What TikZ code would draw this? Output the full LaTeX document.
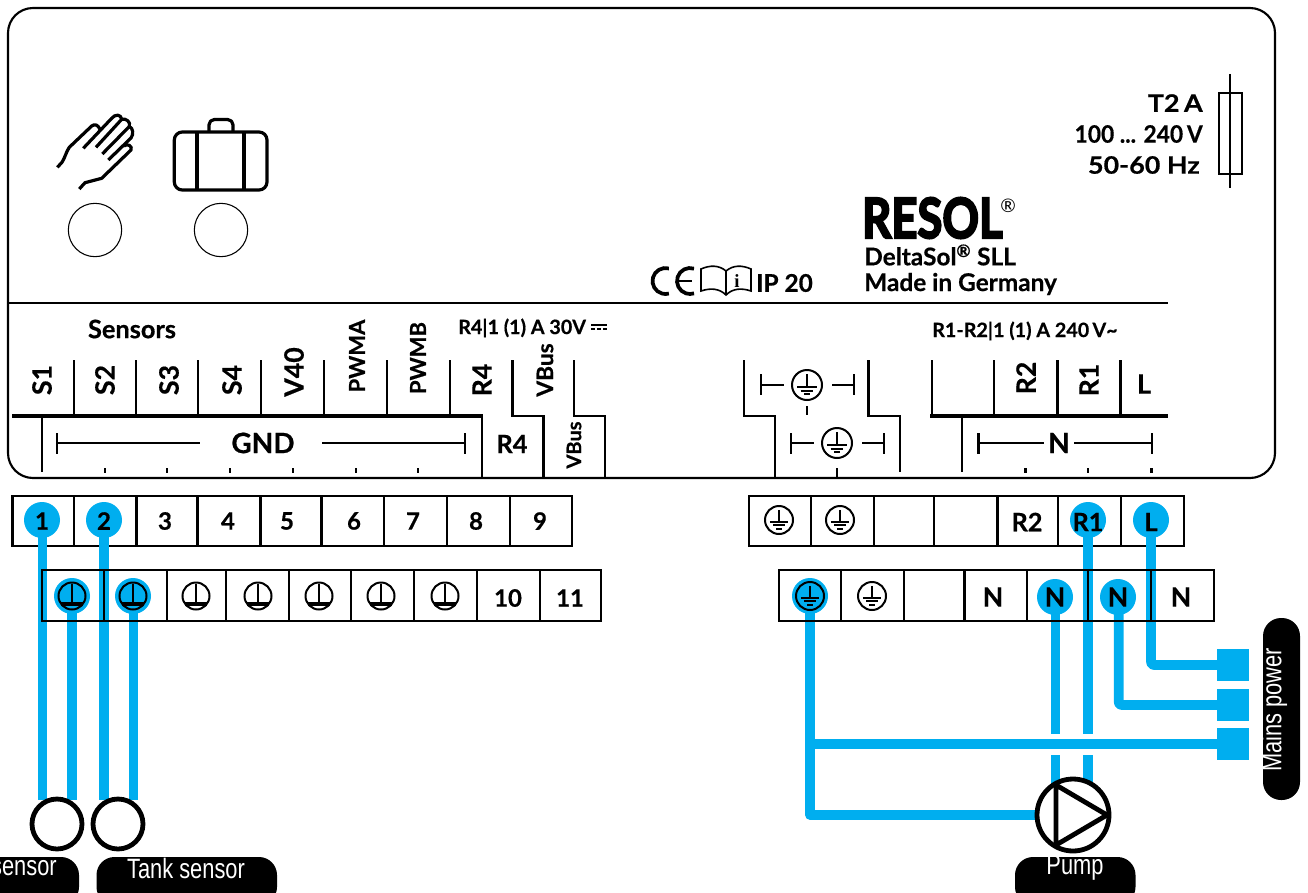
\documentclass[tikz,border=0pt]{standalone}
\usepackage{fontspec}
\setmainfont{Lato}[BoldFont={Lato Bold},BoldFeatures={FakeBold=0.5}]
\newfontfamily\cond{Liberation Sans}[FakeStretch=0.78]
\newfontfamily\heavy{Lato Bold}[FakeBold=4]
\newfontfamily\bookserif{Liberation Serif Bold}
\usetikzlibrary{calc}
\definecolor{wire}{HTML}{00AEEF}
\tikzset{
  px/.style={x=0.75pt,y=-0.75pt},
  ln/.style={line width=1.9pt,black},
  thk/.style={line width=2.9pt,black},
  wirel/.style={line width=7.2pt,wire,line join=round},
  lab/.style={font=\bfseries\fontsize{20}{20}\selectfont,inner sep=0pt},
  vlab/.style={lab,rotate=90},
  vlabs/.style={font=\bfseries\fontsize{16.5}{16.5}\selectfont,inner sep=0pt,rotate=90},
  small/.style={font=\bfseries\fontsize{14.8}{14.8}\selectfont,inner sep=0pt},
  term/.style={font=\bfseries\fontsize{18}{18}\selectfont,inner sep=0pt},
  blob/.style={circle,fill=wire,minimum size=27pt,inner sep=0pt},
  pill/.style={fill=black,rounded corners=13.5pt},
  pilltxt/.style={font=\cond\fontsize{21}{21}\selectfont,text=white,inner sep=0pt},
  sens/.style={circle,draw=black,line width=3.6pt,fill=white,minimum size=37.5pt,inner sep=0pt},
  knob/.style={circle,draw=black,line width=0.8pt,minimum size=40pt,inner sep=0pt},
  sq/.style={fill=wire,minimum size=24pt,inner sep=0pt},
  fusetxt/.style={font=\bfseries\fontsize{18}{18}\selectfont,anchor=east,inner sep=0pt},
  infotxt/.style={font=\bfseries\fontsize{18.3}{18.3}\selectfont,anchor=west,inner sep=0pt},
  icon/.style={line width=2.4pt,line join=round}
}
\newcommand{\gndsym}[2]{%
  \draw[line width=1.5pt] (#1,#2) circle[radius=13.5];
  \draw[line width=1.5pt] (#1,#2-12) -- (#1,#2+8);
  \draw[line width=2.6pt] (#1-11,#2+8) -- (#1+11,#2+8);}
\newcommand{\pesym}[3][14]{%
  \draw[line width=1.5pt] (#2,#3) circle[radius=#1];
  \draw[line width=1.2pt] (#2,#3-#1*0.72) -- (#2,#3+#1*0.15);
  \draw[line width=1.3pt] (#2-#1*0.66,#3+#1*0.15) -- (#2+#1*0.66,#3+#1*0.15);
  \draw[line width=1.3pt] (#2-#1*0.42,#3+#1*0.38) -- (#2+#1*0.42,#3+#1*0.38);
  \draw[line width=1.3pt] (#2-#1*0.2,#3+#1*0.62) -- (#2+#1*0.2,#3+#1*0.62);}
\newcommand{\vrow}[3]{\foreach \xx in {#3}{\draw[ln] (\xx,#1) -- (\xx,#2);}}
\begin{document}
\begin{tikzpicture}[px]
\useasboundingbox (0,0) rectangle (1308,892);
\fill[white] (0,0) rectangle (1308,892);

% housing
\draw[line width=1.6pt] (8,33) arc[start angle=180,end angle=270,radius=25] -- (1250,8) arc[start angle=-90,end angle=0,radius=25] -- (1275,453) arc[start angle=0,end angle=90,radius=25] -- (33,478) arc[start angle=90,end angle=180,radius=25] -- cycle;
\draw[line width=1.8pt] (8,303) -- (1168,303);

% hand icon
\draw[icon] (57.3,167.3) -- (61.7,162.7) .. controls (65,158) and (66,152) .. (69.3,147.3) -- (91.7,126) .. controls (95,123.5) and (98,125) .. (100,129.3);
\draw[icon] (83.3,148.3) -- (111.7,118.3) .. controls (115,114) and (121,114) .. (121.7,119.3) -- (96,147.3);
\draw[icon] (121.7,119.3) .. controls (126,118) and (131,122) .. (129.3,126.5) -- (102.3,154);
\draw[icon] (129.3,126.5) .. controls (133,128) and (134,134) .. (131,138) -- (108.3,160);
\draw[icon] (124,146) .. controls (127,143) and (133,146) .. (131,150) -- (101.7,178.3) -- (85,182.7) -- (79.3,189);
% suitcase
\draw[icon,rounded corners=6pt] (174.3,132) rectangle (267,190);
\draw[icon,rounded corners=4pt] (209,132) -- (209,119.5) -- (233,119.5) -- (233,132);
\draw[icon] (197,132) -- (197,190) (244,132) -- (244,190);
\node[knob] (k1) at (95,230) {};
\node[knob] (k2) at (221,230) {};

% fuse
\draw[line width=1.8pt] (1230,74) -- (1230,188);
\draw[line width=1.8pt] (1219,93) rectangle (1242,174);
\node[fusetxt,xscale=1.12] (t1) at (1203,103) {T2\,A};
\node[fusetxt,xscale=0.95] (t2) at (1203,134) {100 ... 240\,V};
\node[fusetxt,xscale=1.12] (t3) at (1200,165) {50-60 Hz};

% brand
\node[font=\heavy\fontsize{41.5}{41.5}\selectfont,anchor=base west,inner sep=0pt,text depth=0pt,xscale=0.82] (brand) at (862,238) {RESOL};
\node[font=\fontsize{14}{14}\selectfont,inner sep=0pt] (reg) at (1008,206) {®};
\node[infotxt] (ds) at (864,255) {DeltaSol\textsuperscript{®} SLL};
\node[infotxt] (mg) at (864,284) {Made in Germany};
\node[infotxt] (ip) at (756,283) {IP 20};
% CE mark
\draw[line width=2.8pt] (665.5,281) ++(-75:13) arc[start angle=-75,end angle=-285,radius=13];
\draw[line width=2.8pt] (690,281) ++(-72:13) arc[start angle=-72,end angle=-288,radius=13];
\draw[line width=2.2pt] (678,281) -- (692,281);
% book
\draw[line width=1.2pt] (726,271) .. controls (719,265) and (710,265) .. (701,269) -- (701,291) .. controls (710,288) and (719,288) .. (726,295) .. controls (733,288) and (742,288) .. (751,291) -- (751,269) .. controls (742,265) and (733,265) .. (726,271);
\draw[line width=1.8pt] (726,271) -- (726,295);
\node[font=\bookserif\fontsize{14}{14}\selectfont,inner sep=0pt] (bi) at (737,281) {i};

% left connector legend
\node[font=\bfseries\fontsize{19}{19}\selectfont,inner sep=0pt] (sensors) at (132,329) {Sensors};
\node[small,anchor=west] (r4r) at (458,328) {R4|1 (1) A 30V};
\draw[line width=1.2pt] (591,325) -- (607,325);
\draw[line width=1.2pt] (591,329) -- (595,329) (597,329) -- (601,329) (603,329) -- (607,329);
\node[vlab] (s1) at (42,380) {S1};
\node[vlab] (s2) at (105,380) {S2};
\node[vlab] (s3) at (169,380) {S3};
\node[vlab] (s4) at (232,380) {S4};
\node[vlab] (v40) at (294,372) {V40};
\node[vlabs] (pwma) at (357,356) {PWMA};
\node[vlabs] (pwmb) at (418,358) {PWMB};
\node[vlab] (r4a) at (482,380) {R4};
\node[vlabs,font=\bfseries\fontsize{17}{17}\selectfont] (vb1) at (545,370) {VBus};
\foreach \x in {74,136,198,261,324,387,450}{\draw[ln] (\x,360) -- (\x,416);}
\draw[thk] (12,416) -- (483,416);
\draw[ln] (482,415) -- (482,478);
\draw[ln] (42,416) -- (42,472);
\draw[ln] (57,433) -- (57,454) (57,443) -- (200,443);
\draw[ln] (322,443) -- (465,443) (465,433) -- (465,454);
\node[font=\bfseries\fontsize{21}{21}\selectfont,inner sep=0pt] (gnd) at (263,443) {GND};
\foreach \x in {105,167,230,293,356,418}{\draw[line width=2.2pt] (\x,468) -- (\x,473);}
\draw[thk,line width=2.2pt,line join=miter] (512.5,360) -- (512.5,416) -- (543.5,416) -- (543.5,478);
\draw[thk,line width=2.2pt,line join=miter] (574,360) -- (574,416) -- (605,416) -- (605,478);
\node[font=\bfseries\fontsize{19}{19}\selectfont,inner sep=0pt] (r4b) at (512,444) {R4};
\node[font=\bfseries\fontsize{15}{15}\selectfont,rotate=90,inner sep=0pt] (vb2) at (574,445) {VBus};

% right connector legend
\draw[thk,line width=2.2pt,line join=miter] (744,360) -- (744,416) -- (775,416) -- (775,478);
\draw[thk,line width=2.2pt,line join=miter] (868.5,360) -- (868.5,416) -- (900,416) -- (900,472);
\draw[ln] (761,374) -- (761,395) (761,385) -- (784,385);
\draw[ln] (832,385) -- (854,385) (854,374) -- (854,395);
\pesym[15]{807}{385}
\draw[line width=2.2pt] (807,406) -- (807,415);
\draw[ln] (791,433) -- (791,454) (791,443) -- (814,443);
\draw[ln] (862,443) -- (884,443) (884,433) -- (884,454);
\pesym[15]{837}{443}
\draw[line width=2.2pt] (837,468) -- (837,478);
\draw[ln] (932,360) -- (932,416);
\draw[thk] (930,416) -- (1168,416);
\draw[ln] (994,360) -- (994,416) (1057.5,360) -- (1057.5,416) (1120.5,360) -- (1120.5,416);
\draw[ln] (962,416) -- (962,472);
\draw[ln] (978.5,433) -- (978.5,454) (978.5,443) -- (1044,443);
\draw[ln] (1074,443) -- (1152,443) (1152,433) -- (1152,454);
\node[font=\bfseries\fontsize{21}{21}\selectfont,inner sep=0pt] (nb) at (1059,443) {N};
\foreach \x in {1025.5,1088,1151.5}{\draw[line width=2.2pt] (\x,468) -- (\x,473);}
\node[vlab] (r2a) at (1026,378) {R2};
\node[vlab] (r1a) at (1089,380) {R1};
\node[lab] (la) at (1144,384) {L};
\node[small,anchor=west] (r12) at (932,331) {R1-R2|1 (1) A 240\,V\textasciitilde};

% upper terminal rows (wires run over them)
\draw[ln] (12.5,496) rectangle (572,546);
\vrow{496}{546}{74,136.5,197.5,260.5,321.5,384,447,510}
\draw[ln] (749,496) rectangle (1184,546);
\vrow{496}{546}{811,874,934,997.5,1058,1121}

% wires
\coordinate (g1) at (810,596);
\coordinate (pumpc) at (1073,815);
\draw[wirel] (42.3,520) -- (42.3,800);
\draw[wirel] (72,596) -- (72,800);
\draw[wirel] (103.7,520) -- (103.7,800);
\draw[wirel] (133.3,596) -- (133.3,800);
\draw[wirel] (1055.3,597) -- (1055.3,734);
\draw[wirel] (1055.3,755) -- (1055.3,790);
\draw[wirel] (1088,520) -- (1088,734);
\draw[wirel] (1088,755) -- (1088,790);
\draw[wirel,rounded corners=2pt] (1118.7,597) -- (1118.7,705) -- (1225,705);
\draw[wirel,rounded corners=2pt] (1151,520) -- (1151,665) -- (1225,665);
\draw[wirel] (g1) -- (810,815) -- (pumpc);
\draw[wirel] (810,744) -- (1225,744);
\node[sq] (m1) at (1233,665) {};
\node[sq] (m2) at (1233,705) {};
\node[sq] (m3) at (1233,744) {};

% blobs
\node[blob] (b1) at (42,520) {};
\node[blob] (b2) at (104,520) {};
\node[blob] (b3) at (72,596) {};
\node[blob] (b4) at (133,596) {};
\node[blob] (b5) at (810,596) {};
\node[blob] (b6) at (1055,597) {};
\node[blob] (b7) at (1118,597) {};
\node[blob] (b8) at (1088,520) {};
\node[blob] (b9) at (1151,520) {};

% lower terminal rows lie over the wires
\draw[ln] (42,570) rectangle (601,621);
\vrow{570}{621}{104,167,226,289,351,414,477,540}
\draw[ln] (779,570) rectangle (1214,621);
\vrow{570}{621}{841,904,964.5,1027,1088,1151}

% terminal texts
\foreach \n/\x in {1/42,2/104,3/165,4/228,5/287,6/354,7/413,8/476,9/540}{\node[term] (n\n) at (\x,521) {\n};}
\node[term] (n10) at (508,598) {10};
\node[term] (n11) at (570,598) {11};
\foreach \x in {72,133,196,258,319,381,445}{\gndsym{\x}{596}}
\pesym[14]{779}{520}
\pesym[14]{840}{520}
\pesym[14]{810}{596}
\pesym[14]{872}{596}
\node[term,font=\bfseries\fontsize{19}{19}\selectfont] (tr2) at (1027,522) {R2};
\node[term,font=\bfseries\fontsize{19}{19}\selectfont] (tr1) at (1088,522) {R1};
\node[term,font=\bfseries\fontsize{19}{19}\selectfont] (tl) at (1151,522) {L};
\foreach \nm/\x in {na/993,nb2/1055,nc/1118,nd/1181}{\node[term,font=\bfseries\fontsize{20}{20}\selectfont] (\nm) at (\x,597) {N};}

% sensors
\node[sens] (sa) at (57,824) {};
\node[sens] (sb) at (118,824) {};
% pump
\node[sens,minimum size=54pt] (pump) at (pumpc) {};
\draw[line width=3.6pt,line join=round] (1056,785) -- (1056,845) -- (1107,815) -- cycle;

% pills
\fill[pill] (-40,857) rectangle (79,905);
\fill[pill] (96.5,857) rectangle (277,905);
\fill[pill] (1015,857) rectangle (1135.5,905);
\fill[pill] (1263,618) rectangle (1300,800);
\node[pilltxt,anchor=east] (ls) at (57,868) {sensor};
\node[pilltxt] (lt) at (186,868) {Tank sensor};
\node[pilltxt] (lp) at (1075,868) {Pump};
\node[pilltxt,rotate=90] (lm) at (1274,710) {Mains power};
\end{tikzpicture}
\end{document}
